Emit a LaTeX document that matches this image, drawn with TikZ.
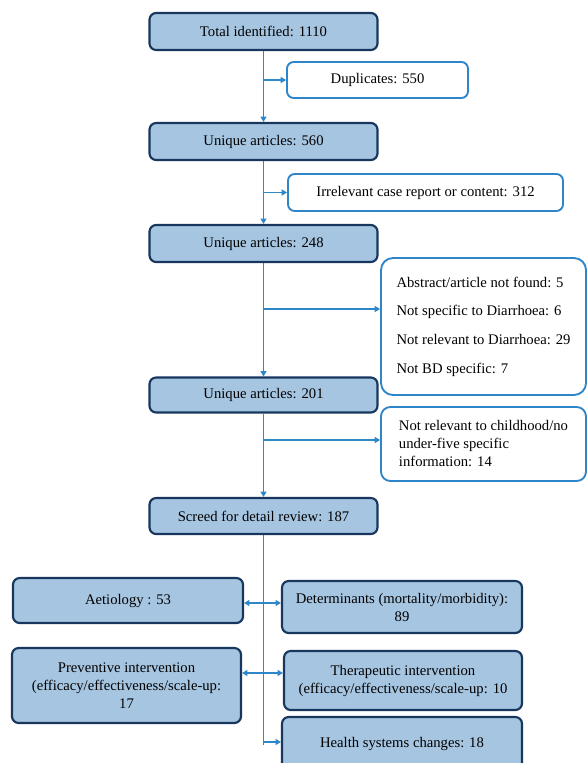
\documentclass[tikz,border=0pt]{standalone}
\usepackage{fontspec}
\setmainfont{Liberation Serif}
\usetikzlibrary{arrows.meta,calc}
\definecolor{boxfill}{HTML}{A6C5E1}
\definecolor{boxline}{HTML}{17375E}
\definecolor{exline}{HTML}{2E86C8}
\definecolor{arrline}{HTML}{2E87C8}

\begin{document}
\begin{tikzpicture}[x=0.75pt, y=-0.75pt, font=\fontsize{11}{13.5}\selectfont,
  box/.style={draw=boxline, line width=1.6pt, rounded corners=5pt, fill=boxfill, align=center, inner sep=0pt, minimum width=171pt, minimum height=27.75pt},
  excl/.style={draw=exline, line width=1.4pt, rounded corners=5pt, fill=white, align=center, inner sep=0pt, minimum height=27.75pt},
  topic/.style={box, minimum width=180pt},
  arr/.style={-{Triangle[length=4pt,width=4.5pt]}, draw=arrline, line width=0.8pt},
  trunk/.style={draw=arrline, line width=0.8pt}]
\useasboundingbox (0,0) rectangle (587,763);
\clip (0,0) rectangle (587,763);
% screening column
\node[box] (tot) at (263.5,31.5) {Total identified: 1110};
\node[excl, minimum width=135.75pt, minimum height=27pt] (dup) at (377.5,80) {Duplicates: 550};
\node[box] (u560) at (263.5,141.5) {Unique articles: 560};
\node[excl, minimum width=206.25pt] (irr) at (425.5,192.5) {Irrelevant case report or content: 312};
\node[box] (u248) at (263.5,243.5) {Unique articles: 248};
\node[excl, align=left, rounded corners=9pt, minimum width=153.75pt, minimum height=102.75pt] (exc2) at (483.5,326.5)
  {Abstract/article not found: 5\\[8pt] Not specific to Diarrhoea: 6\\[8pt] Not relevant to Diarrhoea: 29\\[8pt] Not BD specific: 7};
\node[box, minimum height=26.25pt] (u201) at (263.5,395) {Unique articles: 201};
\node[excl, align=left, rounded corners=7pt, minimum width=153.75pt, minimum height=55.5pt] (exc3) at (483.5,444)
  {Not relevant to childhood/no\\ under-five specific\\ information: 14};
\node[box, minimum height=27pt] (scr) at (263.5,516) {Screed for detail review: 187};
% topic boxes
\node[topic, minimum width=172.5pt, minimum height=33.75pt] (aet) at (128,600.5) {Aetiology : 53};
\node[topic, minimum height=39pt] (det) at (402,607) {Determinants (mortality/morbidity):\\ 89};
\node[topic, minimum width=171.75pt, minimum height=56.25pt] (pre) at (126.5,685.5) {Preventive intervention\\ (efficacy/effectiveness/scale-up:\\ 17};
\node[topic, minimum width=178.5pt, minimum height=44.25pt] (the) at (403,680.5) {Therapeutic intervention\\ (efficacy/effectiveness/scale-up: 10};
\node[topic, minimum height=39.75pt] (hea) at (402,743.5) {Health systems changes: 18};
% connectors
\coordinate (b1) at (263.5,80);
\coordinate (b2) at (263.5,192.5);
\coordinate (b3) at (263.5,309);
\coordinate (b4) at (263.5,440);
\coordinate (j1) at (263.5,603);
\coordinate (j2) at (263.5,673);
\coordinate (j3) at (263.5,742);
\coordinate (bend) at (263.5,745);
\draw[arr] (tot) -- (u560); \draw[arr] (u560) -- (u248); \draw[arr] (u248) -- (u201); \draw[arr] (u201) -- (scr);
\draw[arr] (b1) -- (dup.west); \draw[arr] (b2) -- (irr.west);
\draw[arr] (b3) -- (b3 -| exc2.west); \draw[arr] (b4) -- (b4 -| exc3.west);
\draw[trunk] (scr) -- (bend);
\draw[arr] (j1) -- (j1 -| aet.east); \draw[arr] (j1) -- (j1 -| det.west);
\draw[arr] (j2) -- (j2 -| pre.east); \draw[arr] (j2) -- (j2 -| the.west);
\draw[arr] (j3) -- (j3 -| hea.west);
\end{tikzpicture}
\end{document}
